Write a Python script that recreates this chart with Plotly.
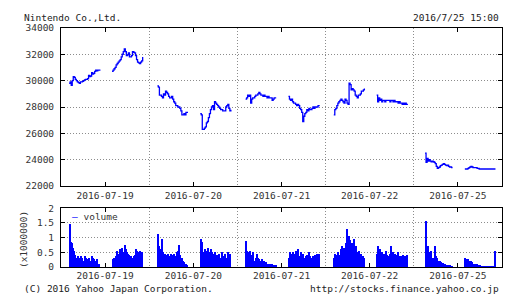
import plotly.graph_objects as go

# ---------------- data ----------------
days = ["2016-07-19", "2016-07-20", "2016-07-21", "2016-07-22", "2016-07-25"]
d5_am_start = 555                            # 9:15 (delayed open)

p_d1_am = [29800, 29900, 29650, 30000, 30300, 30250, 30100, 30000, 29900, 29850, 29800, 29900, 29900, 29950, 30000, 30050,
           30100, 30100, 30150, 30400, 30300, 30350, 30600, 30500, 30550, 30700, 30800, 30750, 30800, 30800, 30750]
p_d1_pm = [30700, 30800, 30900, 31000, 31200, 31300, 31400, 31500, 31600, 31800, 32000, 32200, 32400, 32200, 31900, 31950,
           32100, 31800, 31800, 31900, 32200, 32150, 32100, 31900, 31600, 31400, 31350, 31300, 31400, 31500, 31800]
p_d2_am = [29600, 29500, 28900, 28900, 28800, 28700, 29000, 28900, 29200, 29100, 29000, 28800, 28700, 28700, 28800, 28600,
           28400, 28300, 28100, 28100, 28000, 28000, 27900, 27700, 27400, 27400, 27500, 27400, 27600, 27600, 27600]
p_d2_pm = [27500, 27400, 26300, 26300, 26400, 26500, 26800, 26900, 27200, 27500, 27800, 28000, 28100, 27800, 28400, 28300,
           28200, 28100, 28000, 27900, 27800, 27800, 27700, 27700, 27700, 28000, 28100, 28200, 27900, 27700, 27800]
p_d3_am = [28600, 28700, 28900, 28800, 28900, 28300, 28600, 28700, 28700, 28800, 28900, 28900, 29000, 29100, 29000, 28900,
           28900, 28800, 28900, 28800, 28800, 28700, 28800, 28700, 28700, 28700, 28500, 28600, 28700, 28700, 28700]
p_d3_pm = [28800, 28600, 28500, 28600, 28400, 28300, 28300, 28200, 28100, 28200, 28100, 27900, 27800, 27600, 26900, 27300,
           27500, 27600, 27800, 27700, 27900, 27800, 27800, 27900, 28000, 27900, 28000, 28000, 28000, 28100, 28050]
p_d4_am = [27400, 27800, 27900, 28100, 28300, 28400, 28500, 28600, 28500, 28400, 28300, 28600, 28500, 28300, 28200, 29800,
           29700, 29300, 29400, 29300, 29200, 28900, 28800, 28700, 28900, 28900, 29000, 29200, 29200, 29300, 29400]
p_d4_pm = [28900, 28400, 28700, 28500, 28600, 28400, 28500, 28500, 28400, 28500, 28500, 28500, 28500, 28400, 28500, 28500,
           28400, 28500, 28400, 28400, 28400, 28300, 28400, 28300, 28300, 28200, 28300, 28200, 28300, 28200, 28150]
p_d5_am = [24500, 23800, 24100, 23900, 24000, 23900, 23850, 23900, 23850, 23800, 23700, 23500, 23350, 23400, 23450, 23550,
           23600, 23650, 23700, 23650, 23600, 23550, 23600, 23500, 23450, 23450, 23400, 23400]
p_d5_pm = [23300, 23300, 23300, 23350, 23400, 23450, 23500, 23450, 23400, 23400, 23400, 23400, 23350, 23350, 23300, 23300,
           23300, 23300, 23300, 23300, 23300, 23300, 23300, 23300, 23300, 23300, 23300, 23300, 23300, 23300, 23300]

v_d1_am = [1.45, 0.85, 0.8, 0.65, 0.55, 0.4, 0.25, 0.3, 0.35, 0.3, 0.2, 0.35, 0.3, 0.2, 0.15, 0.35, 0.3, 0.2, 0.25, 0.3,
           0.15, 0.2, 0.35, 0.3, 0.25, 0.2, 0.15, 0.25, 0.1, 0.1]
v_d1_pm = [0.25, 0.3, 0.25, 0.35, 0.55, 0.3, 0.45, 0.6, 0.4, 0.65, 0.5, 0.35, 0.75, 0.6, 0.5, 0.45, 0.4, 0.3, 0.35, 0.2,
           0.3, 0.35, 0.4, 0.6, 0.55, 0.3, 0.5, 0.55, 0.45, 0.5]
v_d2_am = [1.1, 0.7, 0.6, 0.45, 0.95, 0.5, 0.45, 0.45, 0.4, 0.3, 0.45, 0.2, 0.35, 0.45, 0.3, 0.4, 0.45, 0.35, 0.3, 0.5,
           0.55, 0.75, 0.4, 0.2, 0.3, 0.2, 0.15, 0.1, 0.1, 0.05]
v_d2_pm = [0.95, 0.85, 0.5, 0.45, 0.6, 0.55, 0.45, 0.65, 0.5, 0.4, 0.6, 0.5, 0.35, 0.45, 0.5, 0.3, 0.4, 0.35, 0.45, 0.3,
           0.25, 0.5, 0.35, 0.3, 0.45, 0.2, 0.3, 0.5, 0.3, 0.45]
v_d3_am = [0.88, 0.55, 0.5, 0.45, 0.55, 0.4, 0.35, 0.5, 0.2, 0.15, 0.3, 0.45, 0.3, 0.25, 0.15, 0.2, 0.25, 0.15, 0.2, 0.1,
           0.15, 0.1, 0.05, 0.1, 0.05, 0.08, 0.05, 0.05, 0.03, 0.03]
v_d3_pm = [0.3, 0.5, 0.45, 0.3, 0.5, 0.45, 0.3, 0.55, 0.4, 0.6, 0.35, 0.3, 0.5, 0.35, 0.45, 0.3, 0.25, 0.35, 0.4, 0.3,
           0.5, 0.35, 0.3, 0.2, 0.35, 0.3, 0.4, 0.45, 0.3, 0.45]
v_d4_am = [0.3, 0.45, 0.35, 0.4, 0.5, 0.3, 0.4, 0.6, 0.7, 0.5, 0.65, 0.8, 1.3, 0.6, 1.05, 0.9, 0.65, 0.8, 0.5, 0.95,
           0.6, 0.7, 0.5, 0.4, 0.55, 0.3, 0.45, 0.3, 0.35, 0.3]
v_d4_pm = [0.45, 0.7, 0.4, 0.6, 0.35, 0.5, 0.4, 0.45, 0.3, 0.55, 0.4, 0.3, 0.35, 0.45, 0.7, 0.4, 0.5, 0.45, 0.3, 0.4,
           0.5, 0.35, 0.25, 0.35, 0.3, 0.4, 0.3, 0.35, 0.3, 0.4]
v_d5_am = [1.55, 0.3, 0.7, 0.5, 0.4, 0.55, 0.3, 0.25, 0.3, 0.7, 0.35, 0.3, 0.2, 0.15, 0.2, 0.15, 0.1, 0.12, 0.05, 0.08,
           0.06, 0.05, 0.04, 0.03, 0.03, 0.02, 0.02]
v_d5_pm = [0.3, 0.25, 0.2, 0.25, 0.2, 0.15, 0.2, 0.15, 0.1, 0.1, 0.05, 0.08, 0.05, 0.04, 0.03, 0.02, 0.01, 0.01, 0.01, 0.01,
           0.01, 0.01, 0.01, 0.01, 0.01, 0.01, 0.01, 0.01, 0.01, 0.55]

y_ticks_price = [22000, 24000, 26000, 28000, 30000, 32000, 34000]
y_ticks_vol = [0, 0.5, 1, 1.5, 2]
y_ticklabels_vol = ["0", "0.5", "1", "1.5", "2"]

# ---------------- time -> axis position ----------------
DAY_START = 8 * 60 + 20
DAY_LEN = 432.0
STEP = 5


def xpos(day, minute):
    return day + (minute - DAY_START) / DAY_LEN


sessions = [
    (0, 540, p_d1_am, v_d1_am), (0, 750, p_d1_pm, v_d1_pm),
    (1, 540, p_d2_am, v_d2_am), (1, 750, p_d2_pm, v_d2_pm),
    (2, 540, p_d3_am, v_d3_am), (2, 750, p_d3_pm, v_d3_pm),
    (3, 540, p_d4_am, v_d4_am), (3, 750, p_d4_pm, v_d4_pm),
    (4, d5_am_start, p_d5_am, v_d5_am), (4, 750, p_d5_pm, v_d5_pm),
]

px, py, bx, by = [], [], [], []
for d, start, prices, vols in sessions:
    for i, p in enumerate(prices):
        px.append(xpos(d, start + STEP * i))
        py.append(p)
    px.append(None)
    py.append(None)
    for i, v in enumerate(vols):
        bx.append(xpos(d, start + STEP * i + STEP / 2))
        by.append(v)

BLUE = "#0000ff"
FONT = "DejaVu Sans Mono"
FS = 9.5
GRID = "#8c8c8c"
DOT = "1px,2px"

fig = go.Figure()
fig.add_trace(go.Scatter(x=px, y=py, mode="lines", line=dict(color=BLUE, width=1.3, shape="hv"),
                         connectgaps=False, showlegend=False, xaxis="x", yaxis="y"))
fig.add_trace(go.Bar(x=bx, y=by, width=STEP / DAY_LEN, marker=dict(color=BLUE, line=dict(width=0)),
                     showlegend=False, xaxis="x2", yaxis="y2"))

W, H = 520, 300
xl, xr = 61 / W, 502 / W
p_top, p_bot = 1 - 22.7 / H, 1 - 187 / H
v_top, v_bot = 1 - 210 / H, 1 - 271 / H

day_centers = [i + 0.5 for i in range(len(days))]
day_bounds = [1, 2, 3, 4]

xcommon = dict(range=[0, 5], tickmode="array", tickvals=day_centers, ticktext=days,
               ticks="inside", ticklen=4, tickcolor="black", showgrid=False, zeroline=False,
               showline=True, linecolor="black", linewidth=1, mirror="ticks",
               tickfont=dict(family=FONT, size=FS, color="#333"),
               minor=dict(tickmode="array", tickvals=day_bounds, showgrid=True, gridcolor=GRID,
                          griddash=DOT, gridwidth=1, ticks=""),
               domain=[xl, xr], fixedrange=True)

ycommon = dict(ticks="inside", ticklen=4, tickcolor="black", showgrid=True, gridcolor=GRID, griddash=DOT,
               gridwidth=1, zeroline=False, showline=True, linecolor="black", linewidth=1, mirror="ticks",
               tickfont=dict(family=FONT, size=FS, color="#333"), ticklabelstandoff=4)

fig.update_layout(
    width=W, height=H, margin=dict(l=0, r=0, t=0, b=0),
    paper_bgcolor="white", plot_bgcolor="white",
    xaxis=dict(**xcommon, anchor="y"),
    xaxis2=dict(**xcommon, anchor="y2"),
    yaxis=dict(**ycommon, range=[22000, 34000], tickmode="array", tickvals=y_ticks_price,
               ticktext=[str(v) for v in y_ticks_price], domain=[p_bot, p_top], anchor="x"),
    yaxis2=dict(**ycommon, range=[0, 2], tickmode="array", tickvals=y_ticks_vol, ticktext=y_ticklabels_vol,
                domain=[v_bot, v_top], anchor="x2"),
    bargap=0,
    showlegend=False,
    annotations=[
        dict(text="Nintendo Co.,Ltd.", x=22 / W, y=1 - 11.5 / H, xref="paper", yref="paper", xanchor="left",
             yanchor="middle", showarrow=False, font=dict(family=FONT, size=FS, color="#222")),
        dict(text="2016/7/25 15:00", x=501 / W, y=1 - 11.5 / H, xref="paper", yref="paper", xanchor="right",
             yanchor="middle", showarrow=False, font=dict(family=FONT, size=FS, color="#222")),
        dict(text="(C) 2016 Yahoo Japan Corporation.", x=22 / W, y=1 - 293 / H, xref="paper", yref="paper",
             xanchor="left", yanchor="middle", showarrow=False, font=dict(family=FONT, size=FS, color="#222")),
        dict(text="http://stocks.finance.yahoo.co.jp", x=501 / W, y=1 - 293 / H, xref="paper", yref="paper",
             xanchor="right", yanchor="middle", showarrow=False, font=dict(family=FONT, size=FS, color="#222")),
        dict(text="(x1000000)", x=23 / W, y=1 - 243 / H, xref="paper", yref="paper", textangle=-90,
             xanchor="center", yanchor="middle", showarrow=False, font=dict(family=FONT, size=FS, color="#333")),
        dict(text="<span style='color:#0000ff'>–</span> volume", x=70 / W, y=1 - 219 / H, xref="paper",
             yref="paper", xanchor="left", yanchor="middle", showarrow=False,
             font=dict(family=FONT, size=FS, color="#333")),
    ],
)

fig.write_html("out.html")
